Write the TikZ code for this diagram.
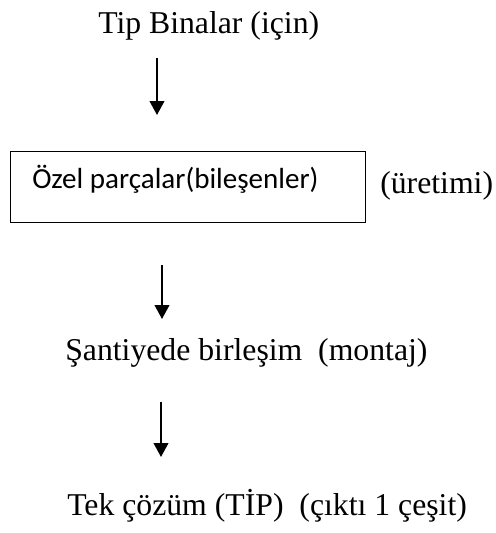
\documentclass[tikz,border=0pt]{standalone}
\usepackage{fontspec}
\setmainfont{Liberation Serif}
\newfontfamily\kutufont{Carlito}
\usetikzlibrary{arrows.meta}

\tikzset{
  metin/.style={anchor=base west, inner sep=0pt, font=\fontsize{23.8}{28}\selectfont},
  kutumetin/.style={anchor=base west, inner sep=0pt, font=\kutufont\fontsize{21.8}{26}\selectfont},
  kutu/.style={draw, line width=1.1pt, anchor=north west, inner sep=0pt,
    minimum width=266pt, minimum height=53pt},
  ok/.style={line width=1.5pt, -{Triangle[length=10.5pt,width=11pt]}}
}

\begin{document}
\begin{tikzpicture}[x=0.75pt,y=-0.75pt]
\useasboundingbox (0,0) rectangle (496,533);

\node[metin] (tip) at (98,33) {Tip Binalar (için)};

\node[kutu] (ozel) at (10,151) {};
\node[kutumetin] (ozelyazi) at (32,188) {Özel parçalar(bileşenler)};
\node[metin] (uretim) at (380,193) {(üretimi)};

\node[metin] (santiye) at (65,360) {Şantiyede birleşim~ (montaj)};
\node[metin] (tek) at (67,515) {Tek çözüm (TİP)~ (çıktı 1 çeşit)};

% oklar
\coordinate (o1a) at (157,58);
\coordinate (o1b) at (157,115);
\coordinate (o2a) at (162,265);
\coordinate (o2b) at (162,319);
\coordinate (o3a) at (161,402);
\coordinate (o3b) at (161,457);

\draw[ok] (o1a) -- (o1b);
\draw[ok] (o2a) -- (o2b);
\draw[ok] (o3a) -- (o3b);
\end{tikzpicture}
\end{document}
